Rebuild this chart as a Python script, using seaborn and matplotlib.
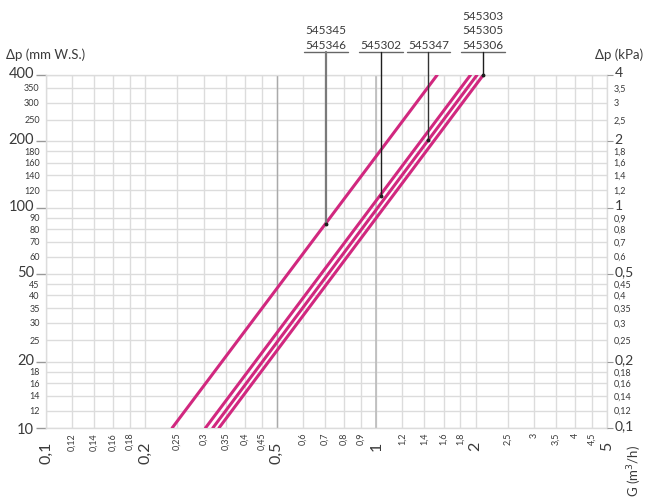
import matplotlib
matplotlib.use('Agg')
import matplotlib.pyplot as plt
import matplotlib.transforms as mtransforms
import numpy as np
import pandas as pd
import seaborn as sns

# flow G (m3/h) where each curve crosses 10 and 400 mm W.S.
series_names = ['545345/545346', '545302', '545347', '545303/545305/545306']
g_low = [0.241, 0.304, 0.320, 0.334]
g_high = [1.53, 1.93, 2.02, 2.11]
dp_low = [10, 10, 10, 10]
dp_high = [400, 400, 400, 400]

# where the leader line of each label meets its curve
leader_g = [0.705, 1.033, 1.44, 2.10]
leader_dp = [84.6, 113, 202, 400]
label_texts = ['545345\n545346', '545302', '545347', '545303\n545305\n545306']

x_ticks = [0.1, 0.12, 0.14, 0.16, 0.18, 0.2, 0.25, 0.3, 0.35, 0.4, 0.45, 0.5,
           0.6, 0.7, 0.8, 0.9, 1, 1.2, 1.4, 1.6, 1.8, 2, 2.5, 3, 3.5, 4, 4.5, 5]
x_major = [0.1, 0.2, 0.5, 1, 2, 5]
y_ticks = [10, 12, 14, 16, 18, 20, 25, 30, 35, 40, 45, 50, 60, 70, 80, 90,
           100, 120, 140, 160, 180, 200, 250, 300, 350, 400]
y_major = [10, 20, 50, 100, 200, 400]

magenta = '#d1287f'
text_col = '#3a3a3a'
grid_col = '#dcdcdc'


def comma(v):
    s = ('%g' % v)
    return s.replace('.', ',')


rows = []
for name, g0, g1, d0, d1 in zip(series_names, g_low, g_high, dp_low, dp_high):
    rows.append({'serie': name, 'G': g0, 'dp': d0})
    rows.append({'serie': name, 'G': g1, 'dp': d1})
df = pd.DataFrame(rows)

sns.set_style('white')
plt.rcParams['font.family'] = ['Lato', 'DejaVu Sans']

fig = plt.figure(figsize=(6.46, 4.97), dpi=100)
ax = fig.add_axes([46 / 646, 1 - 428 / 497, (607 - 46) / 646, (428 - 75) / 497])

sns.lineplot(data=df, x='G', y='dp', hue='serie', palette={n: magenta for n in series_names},
             lw=2.2, legend=False, ax=ax, zorder=4)

ax.set_xscale('log')
ax.set_yscale('log')
ax.set_xlim(0.1, 5)
ax.set_ylim(10, 400)

x_minor = [v for v in x_ticks if v not in x_major]
y_minor = [v for v in y_ticks if v not in y_major]
ax.set_xticks(x_major, labels=[comma(v) for v in x_major])
ax.set_xticks(x_minor, labels=[comma(v) for v in x_minor], minor=True)
ax.set_yticks(y_major, labels=[comma(v) for v in y_major])
ax.set_yticks(y_minor, labels=[comma(v) for v in y_minor], minor=True)
for lab in ax.get_xticklabels(which='both'):
    lab.set_rotation(90)

ax.tick_params(axis='x', which='major', length=6, color='#999999', labelsize=11.5,
               pad=4, labelcolor=text_col, width=1)
ax.tick_params(axis='x', which='minor', length=0, labelsize=6.5, pad=3.5, labelcolor=text_col)
ax.tick_params(axis='y', which='major', length=7, color='#999999', labelsize=10.5,
               pad=1.5, labelcolor=text_col, width=1)
ax.tick_params(axis='y', which='minor', length=0, labelsize=6.5, pad=4.5, labelcolor=text_col)

ax.grid(which='both', color=grid_col, lw=1, zorder=0)
ax.axvline(0.5, color='#aaaaaa', lw=1, zorder=1)
ax.axvline(1, color='#bbbbbb', lw=1.2, zorder=1)
for sp in ax.spines.values():
    sp.set_color(grid_col)
    sp.set_linewidth(1)
ax.set_xlabel('')
ax.set_ylabel('')

# right hand scale in kPa
ax2 = ax.twinx()
ax2.set_yscale('log')
ax2.set_ylim(10, 400)
ax2.set_yticks(y_major, labels=[comma(v / 100) for v in y_major])
ax2.set_yticks(y_minor, labels=[comma(v / 100) for v in y_minor], minor=True)
ax2.tick_params(axis='y', which='major', length=4, color='#999999', labelsize=10,
                pad=1.5, labelcolor=text_col)
ax2.tick_params(axis='y', which='minor', length=0, labelsize=6.5, pad=4.5, labelcolor=text_col)
for sp in ax2.spines.values():
    sp.set_visible(False)

# big labels sit a touch above their grid line
lift = mtransforms.ScaledTranslation(0, 2.5 / 100, fig.dpi_scale_trans)
for tick in ax2.yaxis.get_major_ticks():
    tick.label2.set_transform(tick.label2.get_transform() + lift)
for tick in ax.yaxis.get_major_ticks()[1:]:
    tick.label1.set_transform(tick.label1.get_transform() + lift)

# product labels with leader lines
trans = mtransforms.blended_transform_factory(ax.transData, ax.transAxes)
leader_cols = ['#7a7a7a', '#1e1e1e', '#333333', '#1e1e1e']
leader_lws = [1.6, 1, 1, 1]
y_line = (428 - 52) / 353
for g, d, txt, c, w in zip(leader_g, leader_dp, label_texts, leader_cols, leader_lws):
    y_end = ax.transAxes.inverted().transform(ax.transData.transform((g, d)))[1]
    ax.plot([g, g], [y_line, y_end], transform=trans, color=c, lw=w, clip_on=False, zorder=5)
    ax.plot([g], [y_end], transform=trans, marker='o', ms=1.8, color='#1e1e1e',
            clip_on=False, zorder=6)
    half = 10 ** (22 / 330.4)
    ax.plot([g / half, g * half], [y_line, y_line], transform=trans, color='#666666',
            lw=1, clip_on=False)
    ax.text(g, (428 - 49) / 353, txt, transform=trans, ha='center', va='baseline',
            fontsize=8.5, color=text_col, linespacing=1.4)

fig.text(6 / 646, 1 - 55 / 497, 'Δp (mm W.S.)', ha='left', va='center', fontsize=9.5, color=text_col)
fig.text(643 / 646, 1 - 55 / 497, 'Δp (kPa)', ha='right', va='center', fontsize=9.5, color=text_col)
fig.text(635 / 646, 1 - 471 / 497, 'G (m$^3$/h)', ha='center', va='center', rotation=90,
         fontsize=9.5, color=text_col)

fig.savefig('out.png', dpi=100)
